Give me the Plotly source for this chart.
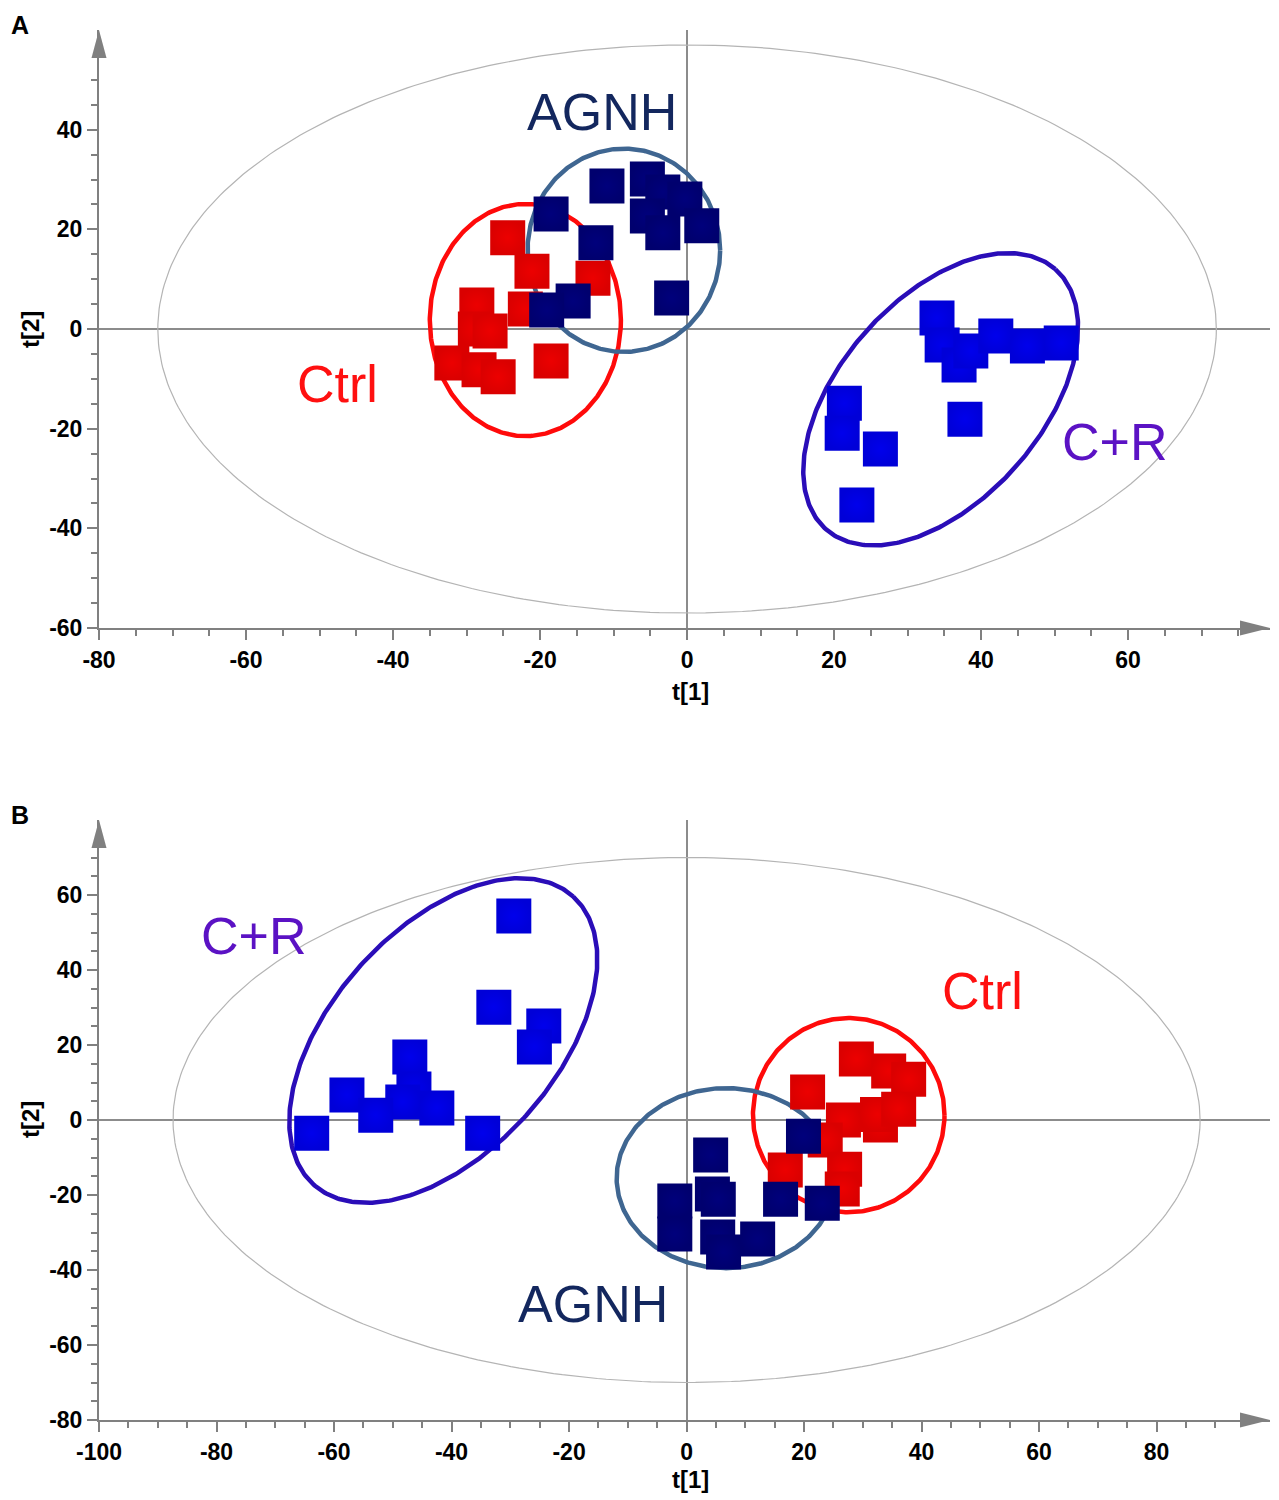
import numpy as np
import plotly.graph_objects as go

# ---------------- data ----------------
# Panel A scores t[1], t[2]
a_ctrl_t1 = [-24.4, -21.1, -12.8, -28.6, -22.0, -28.8, -26.8, -32.0, -28.3, -25.7, -18.5]
a_ctrl_t2 = [18.3, 11.6, 10.2, 4.8, 4.0, 0.0, -0.4, -6.8, -8.2, -9.6, -6.4]
a_agnh_t1 = [-10.9, -5.4, -3.3, -0.3, -5.4, -3.3, 2.0, -18.5, -12.4, -2.1, -15.5, -19.1]
a_agnh_t2 = [28.7, 30.1, 27.5, 26.1, 22.7, 19.3, 20.7, 23.1, 17.3, 6.2, 5.6, 3.8]
a_cr_t1 = [34.0, 34.7, 37.0, 38.6, 42.0, 46.3, 50.9, 21.4, 21.1, 26.3, 37.8, 23.1]
a_cr_t2 = [2.2, -3.2, -7.2, -4.4, -1.4, -3.4, -2.8, -14.9, -20.9, -24.1, -18.1, -35.3]

# Panel B scores t[1], t[2]
b_ctrl_t1 = [28.9, 34.4, 37.8, 20.6, 26.7, 33.0, 32.5, 36.1, 23.6, 16.8, 26.9, 26.5]
b_ctrl_t2 = [16.3, 13.1, 10.9, 7.5, 0.0, -1.3, 1.5, 2.9, -5.3, -13.3, -13.1, -18.4]
b_agnh_t1 = [19.9, 4.1, 4.4, 5.4, -2.0, 16.0, 23.1, -2.0, 5.3, 12.1, 6.3]
b_agnh_t2 = [-4.3, -9.3, -19.7, -21.1, -21.6, -21.1, -22.2, -30.4, -31.2, -31.7, -35.2]
b_cr_t1 = [-29.4, -32.8, -24.3, -25.9, -47.1, -57.8, -46.4, -48.3, -52.9, -42.5, -34.7, -63.8]
b_cr_t2 = [54.4, 30.1, 25.1, 19.5, 16.8, 6.7, 8.3, 4.8, 1.3, 3.2, -3.5, -3.5]

# Ellipses: centre (cx, cy) and two conjugate half-axis vectors (ux, uy), (vx, vy)
a_hotelling = (0.0, 0.0, 72.0, 0.0, 0.0, 57.0)
a_ctrl_ell = (-22.0, 1.8, 13.0, 0.0, 0.0, 23.3)
a_agnh_ell = (-8.6, 15.8, 13.1, 0.0, 0.0, 20.4)
a_cr_ell = (34.5, -14.1, 15.6, 26.1, -10.3, 13.4)
b_hotelling = (0.0, 0.0, 87.4, 0.0, 0.0, 70.0)
b_ctrl_ell = (27.6, 1.3, 16.3, 0.0, 0.0, 25.9)
b_agnh_ell = (6.7, -15.5, 18.6, 0.0, 0.0, 24.0)
b_cr_ell = (-41.4, 21.2, 22.1, 38.4, -14.1, 20.0)

# Tick labels
a_xticks = [-80, -60, -40, -20, 0, 20, 40, 60]
a_yticks = [-60, -40, -20, 0, 20, 40]
b_xticks = [-100, -80, -60, -40, -20, 0, 20, 40, 60, 80]
b_yticks = [-80, -60, -40, -20, 0, 20, 40, 60]

# Group label positions
a_labels = [("AGNH", -11.6, 43.6), ("Ctrl", -47.6, -11.0), ("C+R", 58.2, -22.7)]
b_labels = [("C+R", -73.7, 49.1), ("Ctrl", 50.3, 34.4), ("AGNH", -15.9, -49.1)]

# ---------------- styling ----------------
OFF = 8  # page body margin of the browser
W, H = 1279 - OFF, 1500 - OFF
ML, MR, MT, MB = 99 - OFF, 9, 30 - OFF, 80
PW, PH = W - ML - MR, H - MT - MB
PLOT_BOTTOM_PAGE = 1420
A_BOTTOM = (PLOT_BOTTOM_PAGE - 628) / PH
B_TOP = (PLOT_BOTTOM_PAGE - 820) / PH

FONT = "Liberation Sans"
AXIS_GRAY = "#808080"
COL = {
    "ctrl": dict(m="#da0000", g="#ec0000", ell="#ff0a0a", txt="#ff1010"),
    "agnh": dict(m="#00006e", g="#00007c", ell="#3f6691", txt="#13275e"),
    "cr": dict(m="#0000d8", g="#0000ec", ell="#2a0db8", txt="#5b12c4"),
}
ELL_W = 4.5


def ellipse(e, n=361):
    t = np.linspace(0, 2 * np.pi, n)
    cx, cy, ux, uy, vx, vy = e
    return cx + ux * np.cos(t) + vx * np.sin(t), cy + uy * np.cos(t) + vy * np.sin(t)


fig = go.Figure()


def add_ell(e, color, width, xa, ya):
    x, y = ellipse(e)
    fig.add_trace(go.Scatter(x=x, y=y, mode="lines", line=dict(color=color, width=width),
                             hoverinfo="skip", showlegend=False, xaxis=xa, yaxis=ya))


def add_pts(x, y, key, xa, ya):
    c = COL[key]
    fig.add_trace(go.Scatter(x=x, y=y, mode="markers", showlegend=False, xaxis=xa, yaxis=ya,
                             marker=dict(symbol="square", size=35, color=c["m"],
                                         gradient=dict(type="radial", color=c["g"]),
                                         line=dict(width=0))))


# Panel A
add_ell(a_hotelling, "#b4b4b4", 1.2, "x", "y")
add_ell(a_ctrl_ell, COL["ctrl"]["ell"], ELL_W, "x", "y")
add_ell(a_agnh_ell, COL["agnh"]["ell"], ELL_W, "x", "y")
add_ell(a_cr_ell, COL["cr"]["ell"], ELL_W, "x", "y")
add_pts(a_cr_t1, a_cr_t2, "cr", "x", "y")
add_pts(a_ctrl_t1, a_ctrl_t2, "ctrl", "x", "y")
add_pts(a_agnh_t1, a_agnh_t2, "agnh", "x", "y")

# Panel B
add_ell(b_hotelling, "#b4b4b4", 1.2, "x2", "y2")
add_ell(b_cr_ell, COL["cr"]["ell"], ELL_W, "x2", "y2")
add_ell(b_ctrl_ell, COL["ctrl"]["ell"], ELL_W, "x2", "y2")
add_ell(b_agnh_ell, COL["agnh"]["ell"], ELL_W, "x2", "y2")
add_pts(b_cr_t1, b_cr_t2, "cr", "x2", "y2")
add_pts(b_ctrl_t1, b_ctrl_t2, "ctrl", "x2", "y2")
add_pts(b_agnh_t1, b_agnh_t2, "agnh", "x2", "y2")


def axis(rng, ticks, minor_max, domain, anchor):
    majors = set(ticks)
    minors = [v for v in range(ticks[0], minor_max + 1, 5) if v not in majors]
    return dict(
        domain=domain, range=rng, anchor=anchor,
        tickmode="array", tickvals=ticks, ticktext=[str(v) for v in ticks],
        ticks="outside", ticklen=10, tickwidth=1.5, tickcolor=AXIS_GRAY,
        tickfont=dict(family=FONT, size=23, color="black", weight="bold"),
        minor=dict(tickmode="array", tickvals=minors, ticklen=6, tickwidth=1.5,
                   tickcolor=AXIS_GRAY, showgrid=False),
        showline=True, linecolor=AXIS_GRAY, linewidth=2,
        showgrid=False, zeroline=True, zerolinecolor="#8c8c8c", zerolinewidth=1.5,
        fixedrange=True,
    )


fig.update_layout(
    width=W, height=H,
    margin=dict(l=ML, r=MR, t=MT, b=MB),
    paper_bgcolor="white", plot_bgcolor="white",
    showlegend=False,
    xaxis=axis([-80, 79.3], a_xticks, 75, [0, 1], "y"),
    yaxis=axis([-60, 60], a_yticks, 50, [A_BOTTOM, 1], "x"),
    xaxis2=axis([-100, 99.3], b_xticks, 90, [0, 1], "y2"),
    yaxis2=axis([-80, 80], b_yticks, 70, [0, B_TOP], "x2"),
)

# group labels
for lbls, xr, yr in ((a_labels, "x", "y"), (b_labels, "x2", "y2")):
    for text, x, y in lbls:
        key = {"AGNH": "agnh", "Ctrl": "ctrl", "C+R": "cr"}[text]
        fig.add_annotation(x=x, y=y, xref=xr, yref=yr, text=text, showarrow=False,
                           xanchor="center", yanchor="middle",
                           font=dict(family=FONT, size=52, color=COL[key]["txt"]))


def px2paper(px, py):
    # page pixel -> paper fraction
    return (px - OFF - ML) / PW, (PLOT_BOTTOM_PAGE - py) / PH


def ann_px(text, px, py, size, angle=0, xanchor="center", yanchor="middle"):
    x, y = px2paper(px, py)
    fig.add_annotation(x=x, y=y, xref="paper", yref="paper", text=text, showarrow=False,
                       xanchor=xanchor, yanchor=yanchor, textangle=angle,
                       font=dict(family=FONT, size=size, color="black", weight="bold"))


# panel letters (top-left corner of the page)
ann_px("A", 9, 9, 25, xanchor="left", yanchor="top")
ann_px("B", 9, 799, 25, xanchor="left", yanchor="top")
ann_px("t[2]", 30, 330, 24, -90)
ann_px("t[2]", 30, 1120, 24, -90)
ann_px("t[1]", 690, 691, 24)
ann_px("t[1]", 690, 1479, 24)

# axis arrow heads (pixel-sized, anchored at paper corners of each panel)
for x_anchor, y_anchor, path in (
    (0, 1, "M -7.5,-28 L 7.5,-28 L 0,0 Z"),
    (1, A_BOTTOM, "M -30,-7.5 L -30,7.5 L 0,0 Z"),
    (0, B_TOP, "M -7.5,-28 L 7.5,-28 L 0,0 Z"),
    (1, 0, "M -30,-7.5 L -30,7.5 L 0,0 Z"),
):
    fig.add_shape(type="path", xref="paper", yref="paper", xsizemode="pixel", ysizemode="pixel",
                  xanchor=x_anchor, yanchor=y_anchor, path=path,
                  fillcolor=AXIS_GRAY, line=dict(width=0), layer="above")

fig.write_html("out.html")
